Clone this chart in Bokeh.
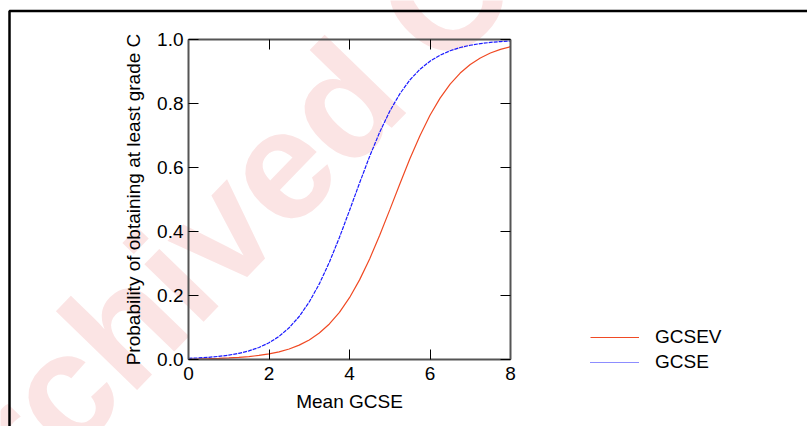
from bokeh.plotting import figure
from bokeh.layouts import column
from bokeh.models import (Range1d, LinearAxis, FixedTicker, Legend, LegendItem,
                          Label, BoxAnnotation, NumeralTickFormatter)
from bokeh.embed import file_html
from bokeh.resources import INLINE

# ---- data ----
mean_gcse = [0.0, 0.25, 0.5, 0.75, 1.0, 1.25, 1.5, 1.75, 2.0, 2.25, 2.5, 2.75,
             3.0, 3.25, 3.5, 3.75, 4.0, 4.25, 4.5, 4.75, 5.0, 5.25, 5.5, 5.75,
             6.0, 6.25, 6.5, 6.75, 7.0, 7.25, 7.5, 7.75, 8.0]
gcsev = [0.0013, 0.0018, 0.0025, 0.0035, 0.0048, 0.0067, 0.0092, 0.0127, 0.0175,
         0.0240, 0.0329, 0.0450, 0.0612, 0.0828, 0.1111, 0.1474, 0.1931, 0.2488,
         0.3143, 0.3882, 0.4675, 0.5486, 0.6272, 0.6995, 0.7631, 0.8168, 0.8606,
         0.8952, 0.9220, 0.9424, 0.9577, 0.9691, 0.9775]
gcse = [0.0035, 0.0049, 0.0069, 0.0097, 0.0137, 0.0192, 0.0269, 0.0376, 0.0522,
        0.0722, 0.0990, 0.1344, 0.1798, 0.2363, 0.3041, 0.3815, 0.4656, 0.5516,
        0.6346, 0.7103, 0.7759, 0.8302, 0.8735, 0.9070, 0.9322, 0.9511, 0.9649,
        0.9749, 0.9820, 0.9872, 0.9909, 0.9936, 0.9954]
x_ticks = [0, 2, 4, 6, 8]
y_ticks = [0.0, 0.2, 0.4, 0.6, 0.8, 1.0]
series_names = ["GCSEV", "GCSE"]
x_title = "Mean GCSE"
y_title = "Probability of obtaining at least grade C"
watermark = "Archived Content"

FONT = "Liberation Sans"
FS = "19px"
W, H = 807, 426
RED = "#f04a24"
BLUE = "#1a1aff"
BLUE_DASH = "4 1"

# ---- background layer: page frame lines, watermark, legend ----
bg = figure(width=W, height=H, x_range=Range1d(0, W), y_range=Range1d(0, H),
            output_backend="svg", toolbar_location=None, min_border=0,
            x_axis_location=None, y_axis_location=None)
bg.frame_align = False
bg.grid.visible = False
bg.outline_line_color = None
bg.background_fill_color = "white"
bg.border_fill_color = "white"

bg.add_layout(Label(x=362, y=H - 80, text=watermark, angle=0.80,
                    text_font=FONT, text_font_style="bold",
                    text_font_size="156px", text_color="#fbe4e4",
                    text_align="center", text_baseline="middle",
                    level="underlay"))
bg.add_layout(BoxAnnotation(left=9, right=W + 100, top=H - 10.5, bottom=-100,
                            fill_alpha=0, line_color="black", line_alpha=1,
                            line_width=2.5))

# one-point renderers: draw nothing themselves, only feed the legend glyphs
k1 = bg.line(mean_gcse[:1], gcsev[:1], line_color=RED, line_width=1.2)
k2 = bg.line(mean_gcse[:1], gcse[:1], line_color=BLUE, line_width=1.2,
             line_dash="1 1")
legend = Legend(items=[LegendItem(label=series_names[0], renderers=[k1]),
                       LegendItem(label=series_names[1], renderers=[k2])],
                location=(590, H - 373), padding=0, margin=0, spacing=3,
                glyph_width=49, glyph_height=20, label_height=20,
                label_standoff=16, label_text_font=FONT,
                label_text_font_size=FS, label_text_color="black",
                border_line_color=None, background_fill_alpha=0)
bg.add_layout(legend)

# ---- chart layer (transparent, overlaid) ----
p = figure(width=W, height=H, x_range=Range1d(0, 8), y_range=Range1d(0, 1),
           output_backend="svg", toolbar_location=None,
           x_axis_location=None, y_axis_location=None,
           min_border_left=188, min_border_right=297,
           min_border_top=39, min_border_bottom=67,
           margin=(-H, 0, 0, 0))
p.frame_align = False
p.xgrid.visible = False
p.ygrid.visible = False
p.outline_line_color = None
p.background_fill_color = None
p.border_fill_color = None

ax_bottom = LinearAxis(axis_label=x_title)
ax_top = LinearAxis()
ax_left = LinearAxis(axis_label=y_title)
ax_right = LinearAxis()
p.add_layout(ax_bottom, "below")
p.add_layout(ax_top, "above")
p.add_layout(ax_left, "left")
p.add_layout(ax_right, "right")

for ax in (ax_bottom, ax_top):
    ax.ticker = FixedTicker(ticks=x_ticks)
for ax in (ax_left, ax_right):
    ax.ticker = FixedTicker(ticks=y_ticks)
    ax.formatter = NumeralTickFormatter(format="0.0")

for ax in (ax_bottom, ax_top, ax_left, ax_right):
    ax.axis_line_color = "#555555"
    ax.axis_line_width = 2
    ax.major_tick_in = 10
    ax.major_tick_out = 0
    ax.major_tick_line_color = "black"
    ax.major_tick_line_width = 1
    ax.minor_tick_line_color = None
    ax.major_label_text_font = FONT
    ax.major_label_text_font_size = FS
    ax.major_label_text_color = "black"
    ax.major_label_standoff = 5
    ax.axis_label_text_font = FONT
    ax.axis_label_text_font_size = FS
    ax.axis_label_text_font_style = "normal"
    ax.axis_label_text_color = "black"

ax_top.major_label_text_color = None
ax_right.major_label_text_color = None
ax_bottom.major_label_standoff = 7
ax_bottom.axis_label_standoff = 8
ax_left.axis_label_standoff = 10

p.line(mean_gcse, gcsev, line_color=RED, line_width=1.2)
p.line(mean_gcse, gcse, line_color=BLUE, line_width=1.2, line_dash=BLUE_DASH)

open("out.html", "w").write(file_html(column(bg, p), INLINE))
